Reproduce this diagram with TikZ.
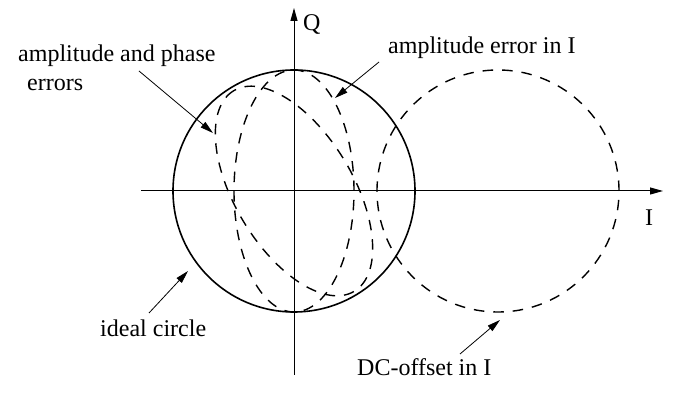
\documentclass[tikz,border=0pt]{standalone}
\usepackage{fontspec}
\setmainfont{Liberation Serif}
\usetikzlibrary{arrows.meta}
\begin{document}
\begin{tikzpicture}[x=1pt,y=1pt,
  lbl/.style={inner sep=0pt,font=\fontsize{24}{29}\selectfont,anchor=base west},
  axis/.style={line width=1pt,-{Triangle[length=13pt,width=7pt]}},
  pointer/.style={line width=0.8pt,-{Triangle[length=13pt,width=7pt]}},
  ideal/.style={line width=1.6pt},
  err/.style={line width=1.4pt,dash pattern=on 10.5pt off 9pt}]
\useasboundingbox (0,0) rectangle (677,411);
\coordinate (O) at (294,220);
\coordinate (Ileft) at (141,220);
\coordinate (Iright) at (663,220);
\coordinate (Qbot) at (294,36);
\coordinate (Qtop) at (294,403);
\coordinate (DC) at (498,220);
% axes
\draw[axis] (Ileft) -- (Iright);
\draw[axis] (Qbot) -- (Qtop);
% ideal circle
\draw[ideal] (O) circle[radius=121];
% DC offset circle
\draw[err] (DC) circle[radius=121];
% amplitude error in I
\draw[err] (O) ellipse[x radius=60,y radius=121];
% amplitude and phase errors
\draw[err,rotate around={121:(O)}] (O) ellipse[x radius=117,y radius=59];
% labels
\node[lbl] (Qlab) at (303,380) {Q};
\node[lbl] (Ilab) at (645,185) {I};
\node[lbl,align=left] (ap) at (18,320) {amplitude and phase\\\hspace*{9pt}errors};
\node[lbl] (ae) at (388,357) {amplitude error in I};
\node[lbl] (ic) at (100,74) {ideal circle};
\node[lbl] (dco) at (357,35) {DC-offset in I};
% pointer arrows
\coordinate (apS) at (139,340);
\coordinate (apT) at (213,278);
\coordinate (aeS) at (379,349);
\coordinate (aeT) at (335,313);
\coordinate (icS) at (149,98);
\coordinate (icT) at (188,140);
\coordinate (dcS) at (460,57);
\coordinate (dcT) at (500,91);
\draw[pointer] (apS) -- (apT);
\draw[pointer] (aeS) -- (aeT);
\draw[pointer] (icS) -- (icT);
\draw[pointer] (dcS) -- (dcT);
\end{tikzpicture}
\end{document}
